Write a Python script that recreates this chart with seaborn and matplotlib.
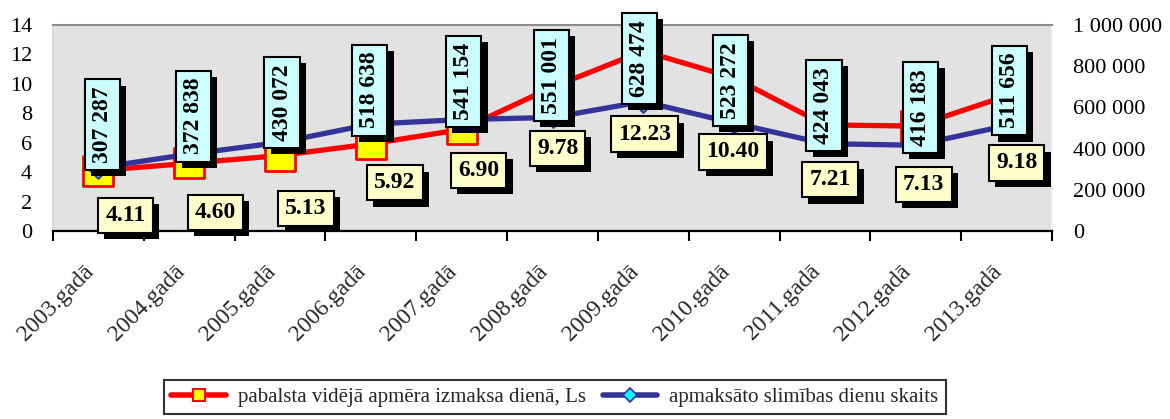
import numpy as np
import pandas as pd
import matplotlib
matplotlib.use("Agg")
import matplotlib.pyplot as plt
import matplotlib.transforms as mtransforms
from matplotlib import patheffects as pe
from matplotlib.lines import Line2D
from matplotlib.ticker import FuncFormatter
import seaborn as sns

# ---------------- data ----------------
years = ["2003.gadā", "2004.gadā", "2005.gadā", "2006.gadā", "2007.gadā", "2008.gadā",
         "2009.gadā", "2010.gadā", "2011.gadā", "2012.gadā", "2013.gadā"]
benefit = [4.11, 4.60, 5.13, 5.92, 6.90, 9.78, 12.23, 10.40, 7.21, 7.13, 9.18]
sick_days = [307287, 372838, 430072, 518638, 541154, 551001, 628474, 523272, 424043, 416183, 511656]
series_names = ["pabalsta vidējā apmēra izmaksa dienā, Ls", "apmaksāto slimības dienu skaits"]
left_ticks = [0, 2, 4, 6, 8, 10, 12, 14]
right_ticks = [0, 200000, 400000, 600000, 800000, 1000000]

# label placement (pixel offsets from the point): (dx, dy_down) and (dx, dy_up)
red_off = [(27, 45), (26, 49), (26, 53), (24, 39), (17, 41), (5, 61), (1, 83), (-1, 74), (5, 55), (8, 58), (10, 67)]
blue_off = [(4, 43), (4, 38), (2, 40), (-1, 34), (2, 38), (-1, 42), (-4, 43), (-4, 43), (-1, 38), (5, 38), (3, 35)]

df = pd.DataFrame({"pos": np.arange(len(years)), "benefit": benefit, "days": sick_days})

sns.set_theme(style="white")
plt.rcParams["font.family"] = ["Liberation Serif", "DejaVu Serif"]

W, H = 1170, 419
fig = plt.figure(figsize=(W / 100, H / 100), dpi=100)
ax = fig.add_axes([53 / W, 1 - 231 / H, (1052 - 53) / W, (231 - 25) / H])
ax2 = ax.twinx()

ax.set_facecolor("#E2E2E2")

RED = "#FF0000"
BLUE = "#333399"

# lines
sns.lineplot(data=df, x="pos", y="benefit", ax=ax, color=RED, lw=3.8, legend=False, zorder=2)
sns.scatterplot(data=df, x="pos", y="benefit", ax=ax, marker="s", s=480, color="#FFFF00",
                edgecolor=RED, linewidth=2, legend=False, zorder=3)
sns.lineplot(data=df, x="pos", y="days", ax=ax2, color=BLUE, lw=3.8, legend=False, zorder=2)
sns.scatterplot(data=df, x="pos", y="days", ax=ax2, marker="D", s=110, color="#00FFFF",
                edgecolor=BLUE, linewidth=1.5, legend=False, zorder=3)

# axes limits/ticks
ax.set_xlim(-0.5, len(years) - 0.5)
ax.set_ylim(0, 14)
ax2.set_ylim(0, 1000000)
ax.set_yticks(left_ticks)
ax2.set_yticks(right_ticks)
ax2.yaxis.set_major_formatter(FuncFormatter(lambda v, p: f"{int(v):,}".replace(",", " ")))
ax.set_xlabel("")
ax.set_ylabel("")
ax2.set_ylabel("")

ax.set_xticks(range(len(years)))
ax.set_xticklabels(years, rotation=45, ha="right", va="center", rotation_mode="anchor", fontsize=17)
ax.set_xticks(np.arange(-0.5, len(years), 1), minor=True)
ax.tick_params(axis="x", which="major", length=0, pad=27)
ax.tick_params(axis="x", which="minor", length=7, width=1.5, color="black", direction="out", bottom=True)
shift = mtransforms.ScaledTranslation(-8 / 100, 0, fig.dpi_scale_trans)
for lbl in ax.get_xticklabels():
    lbl.set_transform(lbl.get_transform() + shift)

ax.tick_params(axis="y", length=0, pad=15, labelsize=16, colors="black")
ax2.tick_params(axis="y", length=0, pad=15, labelsize=16, colors="black")

for s in ["top", "left", "right", "bottom"]:
    ax2.spines[s].set_visible(False)
ax.spines["bottom"].set_color("black")
ax.spines["bottom"].set_linewidth(1.6)
ax.spines["top"].set_color("#8C8C8C")
ax.spines["top"].set_linewidth(1.5)
ax.spines["left"].set_color("#D8D8D8")
ax.spines["right"].set_color("#F4F4F4")
ax.spines["right"].set_linewidth(1.5)

# data labels
shadow = [pe.SimplePatchShadow(offset=(4.5, -4.5), shadow_rgbFace="black", alpha=1.0), pe.Normal()]

def boxed(text, xy, xycoords, off, fc, rot):
    t = ax2.annotate(text, xy=xy, xycoords=xycoords, xytext=off, textcoords="offset pixels",
                     ha="center", va="center", rotation=rot, fontsize=17, fontweight="bold", color="black",
                     bbox=dict(boxstyle="square,pad=0.3", fc=fc, ec="black", lw=1.5), zorder=6)
    t.get_bbox_patch().set_path_effects(shadow)

for i, v in enumerate(benefit):
    dx, dd = red_off[i]
    boxed(f"{v:.2f}", (i, v), ax.transData, (dx, -dd), "#FFFFCC", 0)
for i, v in enumerate(sick_days):
    dx, du = blue_off[i]
    boxed(f"{v:,}".replace(",", " "), (i, v), ax2.transData, (dx, du), "#CCFFFF", 90)

# legend
handles = [
    Line2D([], [], color=RED, lw=4, marker="s", markersize=9, markerfacecolor="#FFFF00", markeredgecolor=RED, markeredgewidth=1.5),
    Line2D([], [], color=BLUE, lw=4, marker="D", markersize=7, markerfacecolor="#00FFFF", markeredgecolor=BLUE, markeredgewidth=1.2),
]
leg = fig.legend(handles, series_names, loc="center", bbox_to_anchor=(555 / W, 1 - 397 / H), ncol=2,
                 frameon=True, fancybox=False, edgecolor="black", fontsize=15, handlelength=2.6,
                 columnspacing=0.8, handletextpad=0.6, borderpad=0.35)
leg.get_frame().set_linewidth(1.5)

fig.savefig("out.png", dpi=100)
